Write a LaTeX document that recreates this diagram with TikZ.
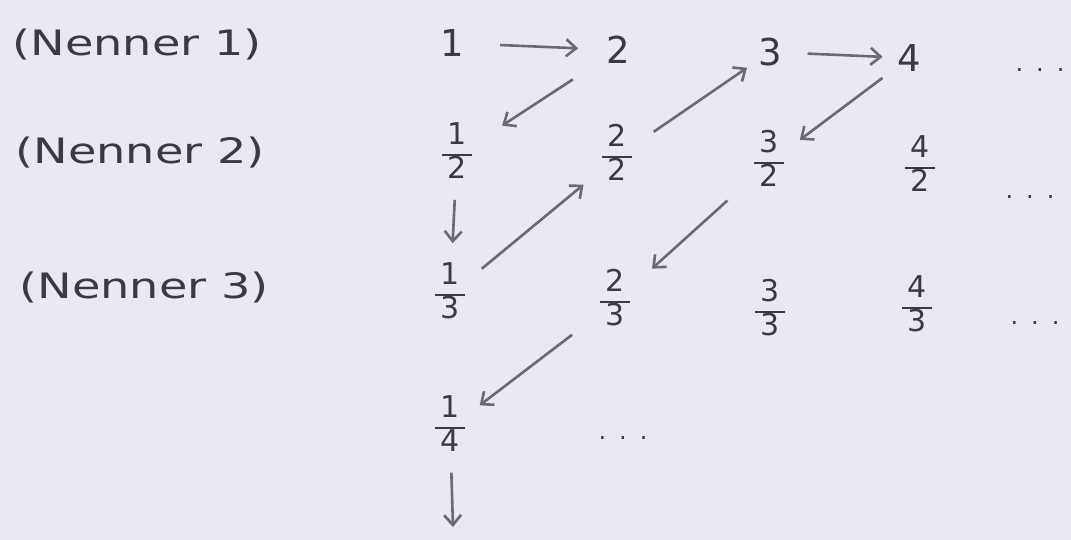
\documentclass[tikz,border=0pt]{standalone}
\usepackage{fontspec}
\setmainfont{DejaVu Sans}
\newfontfamily\labfont{DejaVu Sans}[FakeStretch=1.32]
\usetikzlibrary{arrows.meta,calc}
\definecolor{paper}{HTML}{E9E9F1}
\definecolor{ink}{HTML}{3A3A44}
\definecolor{pen}{HTML}{6A6A74}
\newcommand{\fr}[2]{{\setlength{\arrayrulewidth}{2.2pt}\renewcommand{\arraystretch}{0.95}\begin{tabular}{@{\,}c@{\,}}#1\\\hline#2\end{tabular}}}
\newcommand{\conn}[4]{\draw[arr] ($(#1)!#3!(#2)$) -- ($(#1)!#4!(#2)$);}
\begin{document}
\begin{tikzpicture}[x=1pt,y=-1pt,
  lab/.style={text=ink,font=\labfont\fontsize{35}{40}\selectfont},
  num/.style={text=ink,font=\fontsize{37}{42}\selectfont,inner sep=0pt},
  frac/.style={text=ink,font=\fontsize{30}{33}\selectfont,inner sep=0pt},
  dots/.style={text=ink,font=\fontsize{24}{28}\selectfont,inner sep=0pt},
  arr/.style={draw=pen,line width=2.6pt,-{Straight Barb[length=10pt,width=17pt,line width=2.6pt]}}]
\fill[paper] (0,0) rectangle (1071,540);
\useasboundingbox (0,0) rectangle (1071,540);
% labels
\node[lab] (l1) at (137,45) {(Nenner 1)};
\node[lab] (l2) at (140,153) {(Nenner 2)};
\node[lab] (l3) at (144,288) {(Nenner 3)};
% row 1
\node[num] (n1) at (452,43) {1};
\node[num] (n2) at (618,50) {2};
\node[num] (n3) at (770,52) {3};
\node[num] (n4) at (909,58) {4};
\node[dots] (d1) at (1040,70) {.\hspace{13pt}.\hspace{13pt}.};
% row 2
\node[frac] (f12) at (457,155) {\fr{1}{2}};
\node[frac] (f22) at (617,157) {\fr{2}{2}};
\node[frac] (f32) at (769,163) {\fr{3}{2}};
\node[frac] (f42) at (920,168) {\fr{4}{2}};
\node[dots] (d2) at (1030,197) {.\hspace{13pt}.\hspace{13pt}.};
% row 3
\node[frac] (f13) at (450,295) {\fr{1}{3}};
\node[frac] (f23) at (615,302) {\fr{2}{3}};
\node[frac] (f33) at (770,312) {\fr{3}{3}};
\node[frac] (f43) at (917,308) {\fr{4}{3}};
\node[dots] (d3) at (1035,323) {.\hspace{13pt}.\hspace{13pt}.};
% row 4
\node[frac] (f14) at (450,428) {\fr{1}{4}};
\node[dots] (d4) at (623,438) {.\hspace{13pt}.\hspace{13pt}.};
\coordinate (end) at (453,527);
% arrows
\conn{n1}{n2}{0.29}{0.76}
\conn{n2}{f12}{0.28}{0.72}
\conn{f12}{f13}{0.32}{0.63}
\conn{f13}{f22}{0.19}{0.80}
\conn{f22}{n3}{0.24}{0.85}
\conn{n3}{n4}{0.27}{0.81}
\conn{n4}{f32}{0.19}{0.78}
\conn{f32}{f23}{0.27}{0.76}
\conn{f23}{f14}{0.26}{0.82}
\conn{f14}{end}{0.45}{1}
\end{tikzpicture}
\end{document}
